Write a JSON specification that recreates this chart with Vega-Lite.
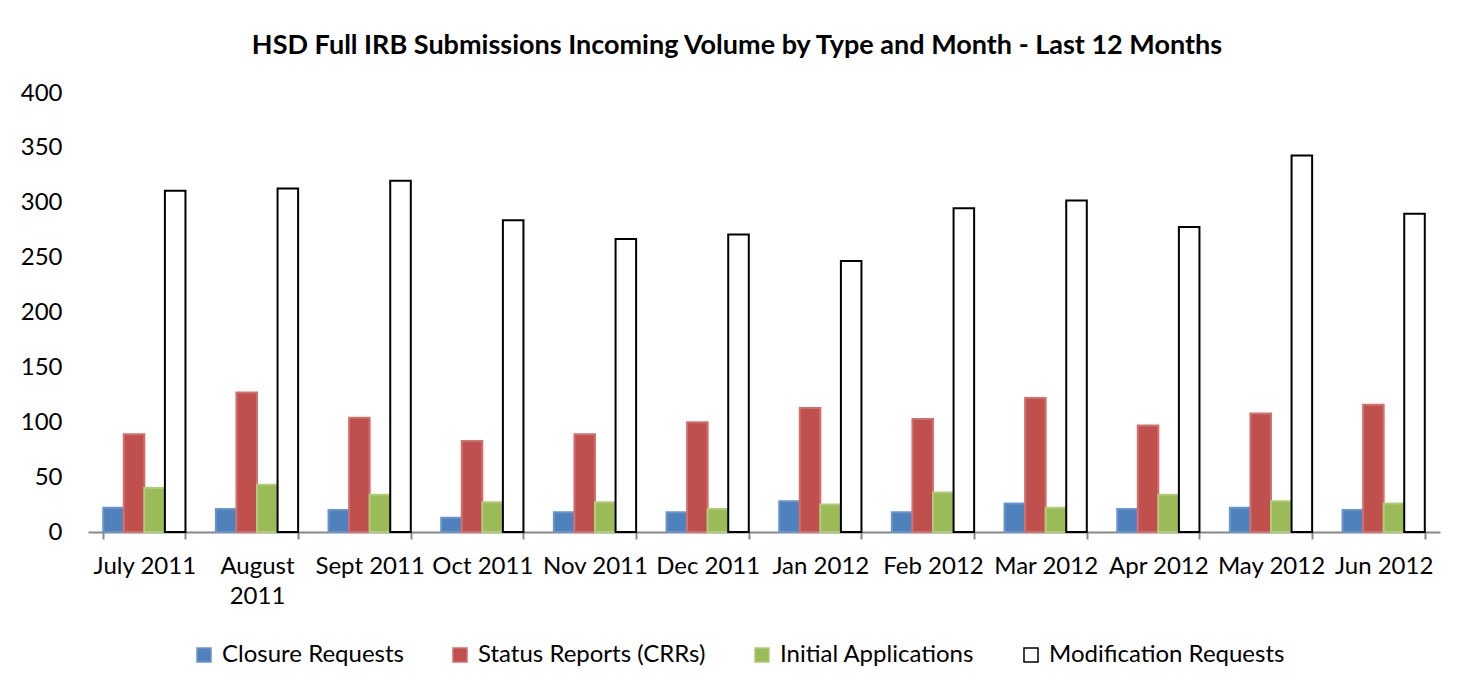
{
  "$schema": "https://vega.github.io/schema/vega-lite/v6.json",
  "autosize": "none",
  "width": 1352,
  "height": 439,
  "padding": {"left": 88, "top": 93, "right": 33, "bottom": 162},
  "background": "white",
  "title": {
    "text": "HSD Full IRB Submissions Incoming Volume by Type and Month - Last 12 Months",
    "font": "Lato",
    "fontSize": 27,
    "fontWeight": "bold",
    "color": "#000000",
    "anchor": "middle",
    "frame": "group",
    "baseline": "middle",
    "offset": 8,
    "dx": -27
  },
  "data": {
    "values": [
      {"month": "July 2011", "type": "Closure Requests", "count": 22},
      {"month": "July 2011", "type": "Status Reports (CRRs)", "count": 89},
      {"month": "July 2011", "type": "Initial Applications", "count": 40},
      {"month": "July 2011", "type": "Modification Requests", "count": 311},
      {"month": "August 2011", "type": "Closure Requests", "count": 21},
      {"month": "August 2011", "type": "Status Reports (CRRs)", "count": 127},
      {"month": "August 2011", "type": "Initial Applications", "count": 43},
      {"month": "August 2011", "type": "Modification Requests", "count": 313},
      {"month": "Sept 2011", "type": "Closure Requests", "count": 20},
      {"month": "Sept 2011", "type": "Status Reports (CRRs)", "count": 104},
      {"month": "Sept 2011", "type": "Initial Applications", "count": 34},
      {"month": "Sept 2011", "type": "Modification Requests", "count": 320},
      {"month": "Oct 2011", "type": "Closure Requests", "count": 13},
      {"month": "Oct 2011", "type": "Status Reports (CRRs)", "count": 83},
      {"month": "Oct 2011", "type": "Initial Applications", "count": 27},
      {"month": "Oct 2011", "type": "Modification Requests", "count": 284},
      {"month": "Nov 2011", "type": "Closure Requests", "count": 18},
      {"month": "Nov 2011", "type": "Status Reports (CRRs)", "count": 89},
      {"month": "Nov 2011", "type": "Initial Applications", "count": 27},
      {"month": "Nov 2011", "type": "Modification Requests", "count": 267},
      {"month": "Dec 2011", "type": "Closure Requests", "count": 18},
      {"month": "Dec 2011", "type": "Status Reports (CRRs)", "count": 100},
      {"month": "Dec 2011", "type": "Initial Applications", "count": 21},
      {"month": "Dec 2011", "type": "Modification Requests", "count": 271},
      {"month": "Jan 2012", "type": "Closure Requests", "count": 28},
      {"month": "Jan 2012", "type": "Status Reports (CRRs)", "count": 113},
      {"month": "Jan 2012", "type": "Initial Applications", "count": 25},
      {"month": "Jan 2012", "type": "Modification Requests", "count": 247},
      {"month": "Feb 2012", "type": "Closure Requests", "count": 18},
      {"month": "Feb 2012", "type": "Status Reports (CRRs)", "count": 103},
      {"month": "Feb 2012", "type": "Initial Applications", "count": 36},
      {"month": "Feb 2012", "type": "Modification Requests", "count": 295},
      {"month": "Mar 2012", "type": "Closure Requests", "count": 26},
      {"month": "Mar 2012", "type": "Status Reports (CRRs)", "count": 122},
      {"month": "Mar 2012", "type": "Initial Applications", "count": 22},
      {"month": "Mar 2012", "type": "Modification Requests", "count": 302},
      {"month": "Apr 2012", "type": "Closure Requests", "count": 21},
      {"month": "Apr 2012", "type": "Status Reports (CRRs)", "count": 97},
      {"month": "Apr 2012", "type": "Initial Applications", "count": 34},
      {"month": "Apr 2012", "type": "Modification Requests", "count": 278},
      {"month": "May 2012", "type": "Closure Requests", "count": 22},
      {"month": "May 2012", "type": "Status Reports (CRRs)", "count": 108},
      {"month": "May 2012", "type": "Initial Applications", "count": 28},
      {"month": "May 2012", "type": "Modification Requests", "count": 343},
      {"month": "Jun 2012", "type": "Closure Requests", "count": 20},
      {"month": "Jun 2012", "type": "Status Reports (CRRs)", "count": 116},
      {"month": "Jun 2012", "type": "Initial Applications", "count": 26},
      {"month": "Jun 2012", "type": "Modification Requests", "count": 290}
    ]
  },
  "mark": {"type": "bar", "strokeWidth": 2},
  "encoding": {
    "x": {
      "field": "month",
      "type": "nominal",
      "sort": null,
      "scale": {"paddingInner": 0.27, "paddingOuter": 0.135},
      "axis": {
        "title": null,
        "labelAngle": 0,
        "labelFont": "Lato",
        "labelFontSize": 24,
        "labelColor": "#000000",
        "labelPadding": 15,
        "labelLimit": 0,
        "labelExpr": "datum.label == 'August 2011' ? ['August', '2011'] : datum.label",
        "labelLineHeight": 30,
        "domainColor": "#888888",
        "domainWidth": 2,
        "tickColor": "#888888",
        "tickWidth": 2,
        "tickSize": 7,
        "tickBand": "extent",
        "labelBound": false
      }
    },
    "xOffset": {
      "field": "type",
      "type": "nominal",
      "sort": ["Closure Requests", "Status Reports (CRRs)", "Initial Applications", "Modification Requests"],
      "scale": {"paddingInner": 0, "paddingOuter": 0}
    },
    "y": {
      "field": "count",
      "type": "quantitative",
      "scale": {"domain": [0, 400]},
      "axis": {
        "title": null,
        "values": [0, 50, 100, 150, 200, 250, 300, 350, 400],
        "grid": false,
        "domain": false,
        "ticks": false,
        "labelFont": "Lato",
        "labelFontSize": 24,
        "labelColor": "#000000",
        "labelPadding": 26
      }
    },
    "fill": {
      "field": "type",
      "type": "nominal",
      "sort": ["Closure Requests", "Status Reports (CRRs)", "Initial Applications", "Modification Requests"],
      "scale": {
        "domain": ["Closure Requests", "Status Reports (CRRs)", "Initial Applications", "Modification Requests"],
        "range": ["#4F81BD", "#C0504D", "#9BBB59", "#FFFFFF"]
      },
      "legend": {
        "title": null,
        "orient": "none",
        "direction": "horizontal",
        "legendX": 104,
        "legendY": 550,
        "padding": 0,
        "columnPadding": 44,
        "symbolType": "square",
        "symbolSize": 196,
        "symbolStrokeWidth": 1.5,
        "symbolOffset": 0,
        "labelFont": "Lato",
        "labelFontSize": 24,
        "labelColor": "#000000",
        "labelOffset": 6,
        "labelLimit": 0
      }
    },
    "stroke": {
      "field": "type",
      "type": "nominal",
      "scale": {
        "domain": ["Closure Requests", "Status Reports (CRRs)", "Initial Applications", "Modification Requests"],
        "range": ["#6A95CC", "#D2706D", "#B0CC78", "#000000"]
      },
      "legend": null
    }
  },
  "config": {
    "view": {"stroke": null},
    "font": "Lato"
  }
}
